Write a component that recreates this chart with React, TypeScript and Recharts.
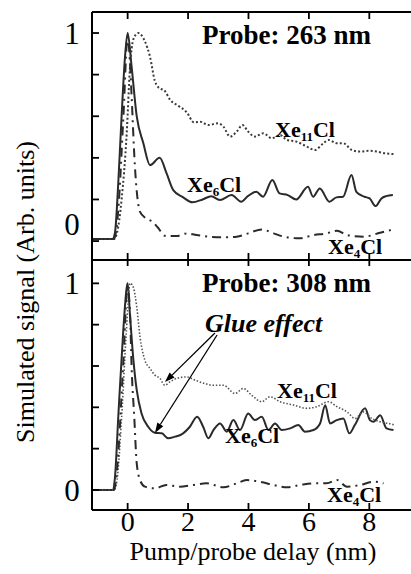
import React from "react";
import { LineChart, Line, XAxis, YAxis, ReferenceLine } from "recharts";

// delay (x) vs simulated signal (y)
const xe6Top: [number, number][] = [
  [-1.18, 0.01], [-0.5, 0.01], [-0.42, 0.04], [-0.31, 0.28], [-0.2, 0.6], [-0.09, 0.88], [0, 1.0],
  [0.13, 0.84], [0.3, 0.6], [0.52, 0.47], [0.74, 0.365], [1.06, 0.4], [1.29, 0.325], [1.51, 0.245],
  [1.84, 0.21], [2.14, 0.186], [2.48, 0.2], [2.77, 0.216], [3.05, 0.197], [3.44, 0.221], [3.76, 0.189],
  [3.98, 0.216], [4.26, 0.237], [4.48, 0.213], [4.79, 0.293], [5.03, 0.229], [5.3, 0.221], [5.58, 0.2],
  [5.97, 0.261], [6.14, 0.213], [6.36, 0.253], [6.68, 0.189], [6.91, 0.21], [7.13, 0.213], [7.41, 0.317],
  [7.57, 0.237], [7.84, 0.213], [8.01, 0.205], [8.21, 0.168], [8.4, 0.205], [8.56, 0.216], [8.78, 0.221],
];
const xe11Top: [number, number][] = [
  [-1.18, 0.01], [-0.45, 0.01], [-0.35, 0.04], [-0.2, 0.2], [-0.03, 0.52], [0.08, 0.84], [0.19, 0.97],
  [0.35, 1.0], [0.57, 0.96], [0.74, 0.886], [0.9, 0.77], [1.01, 0.74], [1.24, 0.72], [1.4, 0.68],
  [1.68, 0.65], [1.95, 0.62], [2.2, 0.57], [2.4, 0.574], [2.67, 0.558], [3.0, 0.566], [3.17, 0.55],
  [3.39, 0.502], [3.61, 0.526], [3.8, 0.558], [3.99, 0.526], [4.21, 0.502], [4.49, 0.518], [4.77, 0.494],
  [5.05, 0.51], [5.27, 0.486], [5.59, 0.478], [5.93, 0.454], [6.2, 0.438], [6.48, 0.47], [6.65, 0.486],
  [6.93, 0.47], [7.14, 0.47], [7.42, 0.438], [7.69, 0.43], [7.97, 0.434], [8.25, 0.43], [8.52, 0.422],
  [8.8, 0.418],
];
const xe4Top: [number, number][] = [
  [-1.18, 0.01], [-0.45, 0.01], [-0.31, 0.15], [-0.14, 0.6], [0, 0.98], [0.08, 0.85], [0.13, 0.7],
  [0.24, 0.36], [0.41, 0.14], [0.6, 0.11], [0.8, 0.095], [1.0, 0.065], [1.24, 0.025], [1.62, 0.024],
  [1.96, 0.037], [2.28, 0.029], [2.72, 0.021], [3.17, 0.018], [3.61, 0.021], [3.99, 0.037], [4.44, 0.056],
  [4.83, 0.037], [5.27, 0.018], [5.7, 0.013], [6.15, 0.029], [6.59, 0.037], [6.93, 0.05], [7.26, 0.029],
  [7.82, 0.021], [8.36, 0.04], [8.8, 0.056],
];

const xe6Bot: [number, number][] = [
  [-1.18, 0], [-0.5, 0], [-0.42, 0.06], [-0.31, 0.354], [-0.15, 0.76], [-0.03, 0.98], [0, 1.0],
  [0.08, 0.84], [0.19, 0.63], [0.3, 0.484], [0.46, 0.37], [0.68, 0.306], [0.9, 0.277], [1.13, 0.274],
  [1.34, 0.25], [1.57, 0.258], [1.8, 0.27], [2.06, 0.306], [2.3, 0.354], [2.5, 0.306], [2.67, 0.25],
  [2.84, 0.29], [3.06, 0.322], [3.28, 0.282], [3.5, 0.338], [3.72, 0.29], [3.99, 0.37], [4.21, 0.338],
  [4.44, 0.354], [4.66, 0.29], [4.88, 0.322], [5.1, 0.29], [5.38, 0.298], [5.65, 0.314], [5.87, 0.282],
  [6.15, 0.29], [6.37, 0.322], [6.54, 0.41], [6.7, 0.322], [6.92, 0.338], [7.14, 0.346], [7.34, 0.274],
  [7.52, 0.314], [7.86, 0.395], [8.02, 0.338], [8.14, 0.33], [8.36, 0.362], [8.57, 0.298], [8.8, 0.29],
];
const xe11Bot: [number, number][] = [
  [-1.18, 0], [-0.45, 0], [-0.35, 0.05], [-0.2, 0.35], [-0.05, 0.75], [0.08, 1.0], [0.19, 0.98],
  [0.3, 0.887], [0.41, 0.74], [0.57, 0.628], [0.74, 0.588], [0.9, 0.556], [1.07, 0.54], [1.23, 0.507],
  [1.4, 0.523], [1.62, 0.54], [1.95, 0.547], [2.25, 0.53], [2.56, 0.515], [2.84, 0.507], [3.17, 0.507],
  [3.55, 0.467], [3.83, 0.491], [4.1, 0.459], [4.44, 0.427], [4.71, 0.451], [5.05, 0.427], [5.49, 0.411],
  [5.93, 0.395], [6.26, 0.403], [6.65, 0.427], [6.93, 0.403], [7.26, 0.378], [7.53, 0.346], [7.81, 0.378],
  [8.08, 0.346], [8.36, 0.33], [8.63, 0.322], [8.85, 0.314],
];
const xe4Bot: [number, number][] = [
  [-1.18, 0], [-0.45, 0], [-0.35, 0.1], [-0.15, 0.6], [0, 0.98], [0.08, 0.85], [0.13, 0.6], [0.22, 0.35],
  [0.3, 0.13], [0.41, 0.048], [0.57, 0.016], [0.9, 0.008], [1.28, 0.024], [1.72, 0.016], [2.17, 0.024],
  [2.61, 0.032], [3.17, 0.013], [3.61, 0.032], [3.94, 0.048], [4.38, 0.04], [4.83, 0.024], [5.27, 0.013],
  [5.7, 0.024], [6.15, 0.032], [6.59, 0.032], [6.93, 0.048], [7.26, 0.016], [7.7, 0.024], [8.14, 0.04],
  [8.47, 0.032],
];

// "Glue effect" arrows: [from, to] in data units of the lower panel
const glueArrows: [number, number, number, number][] = [
  [2.89, 0.76, 1.235, 0.522],
  [2.96, 0.75, 0.904, 0.276],
];

const xTicks = [0, 2, 4, 6, 8];
const yTicks = [0, 0.2, 0.4, 0.6, 0.8, 1];
const xDomain = [-1.18, 9.38];

const FONT = "'Liberation Serif', 'DejaVu Serif', serif";
const INK = "#000";

const toPts = (arr: [number, number][]) => arr.map(([x, y]) => ({ x, y }));

const TopTick = (p: any) => (
  <line x1={p.x} x2={p.x} y1={p.y} y2={p.y + 7} stroke={INK} strokeWidth={1.8} />
);
const MidTick = (p: any) => (
  <line x1={p.x} x2={p.x} y1={p.y - 7} y2={p.y + 6} stroke={INK} strokeWidth={1.8} />
);
const BottomTick = (p: any) => (
  <g>
    <line x1={p.x} x2={p.x} y1={p.y - 7} y2={p.y} stroke={INK} strokeWidth={1.8} />
    <text x={p.x} y={p.y + 21} textAnchor="middle" fontSize={28} fontFamily={FONT} fill={INK}>
      {p.payload.value}
    </text>
  </g>
);
const makeYTick = (zeroShift: number) => (p: any) => {
  const v = p.payload.value;
  const label = v === 0 ? "0" : v === 1 ? "1" : null;
  return (
    <g>
      <line x1={p.x} x2={p.x + 7} y1={p.y} y2={p.y} stroke={INK} strokeWidth={1.8} />
      {label && (
        <text
          x={p.x - 20}
          y={p.y + 11 + (v === 0 ? zeroShift : 0)}
          textAnchor="middle"
          fontSize={31}
          fontFamily={FONT}
          fill={INK}
        >
          {label}
        </text>
      )}
    </g>
  );
};

const Arrow = (p: any) => {
  const { x1, y1, x2, y2 } = p;
  const a = Math.atan2(y2 - y1, x2 - x1);
  const L = 10, W = 3.5;
  const bx = x2 - L * Math.cos(a), by = y2 - L * Math.sin(a);
  const nx = -Math.sin(a) * W, ny = Math.cos(a) * W;
  return (
    <g>
      <line x1={x1} y1={y1} x2={bx} y2={by} stroke={INK} strokeWidth={1.3} />
      <polygon points={`${x2},${y2} ${bx + nx},${by + ny} ${bx - nx},${by - ny}`} fill={INK} />
    </g>
  );
};

const Species = ({ x, y, n }: { x: number; y: number; n: string }) => (
  <text x={x} y={y} fontSize={22} fontWeight="bold" fontFamily={FONT} fill={INK}>
    Xe
    <tspan fontSize={13} dy={4}>{n}</tspan>
    <tspan fontSize={22} dy={-4}>Cl</tspan>
  </text>
);

function series(top: boolean) {
  const s6 = top ? xe6Top : xe6Bot;
  const s11 = top ? xe11Top : xe11Bot;
  const s4 = top ? xe4Top : xe4Bot;
  const xid = top ? "bot" : 0;
  return [
    <Line key="6" xAxisId={xid} data={toPts(s6)} dataKey="y" type="monotone" stroke="#2a2a2a"
      strokeWidth={2} dot={false} isAnimationActive={false} />,
    <Line key="11" xAxisId={xid} data={toPts(s11)} dataKey="y" type="monotone" stroke={top ? "#3a3a3a" : "#555"}
      strokeWidth={top ? 2 : 1.6} strokeDasharray={top ? "2 2.2" : "1.5 1.8"} dot={false} isAnimationActive={false} />,
    <Line key="4" xAxisId={xid} data={toPts(s4)} dataKey="y" type="monotone" stroke="#2a2a2a"
      strokeWidth={2} strokeDasharray="9 5 2 5" dot={false} isAnimationActive={false} />,
  ];
}

export default function App() {
  return (
    <div style={{ position: "absolute", left: 0, top: 0, width: 411, height: 574, background: "#fff" }}>
      <div style={{ position: "absolute", left: 0, top: 0 }}>
        <LineChart width={411} height={268} margin={{ top: 11, right: 0, bottom: 7, left: 0 }}>
          <XAxis xAxisId="top" orientation="top" dataKey="x" type="number" domain={xDomain} ticks={xTicks}
            allowDataOverflow height={1} tickSize={0} tickMargin={0} interval={0} tick={TopTick}
            axisLine={{ stroke: INK, strokeWidth: 2 }} />
          <XAxis xAxisId="bot" orientation="bottom" dataKey="x" type="number" domain={xDomain} ticks={xTicks}
            allowDataOverflow height={1} tickSize={0} tickMargin={0} interval={0} tick={MidTick}
            axisLine={{ stroke: INK, strokeWidth: 2 }} />
          <YAxis width={92} type="number" domain={[-0.091, 1.101]} ticks={yTicks} allowDataOverflow
            tickSize={0} tickMargin={0} interval={0} tick={makeYTick(-17)}
            axisLine={{ stroke: INK, strokeWidth: 2 }} />
          {series(true)}
        </LineChart>
      </div>
      <div style={{ position: "absolute", left: 0, top: 260 }}>
        <LineChart width={411} height={314} margin={{ top: 0, right: 0, bottom: 63, left: 0 }}>
          <XAxis dataKey="x" type="number" domain={xDomain} ticks={xTicks} allowDataOverflow height={1}
            tickSize={0} tickMargin={0} interval={0} tick={BottomTick}
            axisLine={{ stroke: INK, strokeWidth: 2 }} />
          <YAxis width={92} type="number" domain={[-0.097, 1.113]} ticks={yTicks} allowDataOverflow
            tickSize={0} tickMargin={0} interval={0} tick={makeYTick(0)}
            axisLine={{ stroke: INK, strokeWidth: 2 }} />
          {series(false)}
          {glueArrows.map(([xa, ya, xb, yb], i) => (
            <ReferenceLine key={i} segment={[{ x: xa, y: ya }, { x: xb, y: yb }]} shape={Arrow} ifOverflow="visible" />
          ))}
        </LineChart>
      </div>
      <svg width={411} height={574} style={{ position: "absolute", left: 0, top: 0, pointerEvents: "none" }}>
        <g fontFamily={FONT} fill={INK}>
          <text x={202} y={44} fontSize={27} fontWeight="bold">Probe: 263 nm</text>
          <text x={202} y={292} fontSize={27} fontWeight="bold">Probe: 308 nm</text>
          <text x={205} y={332} fontSize={26} fontWeight="bold" fontStyle="italic">Glue effect</text>
          <text x={253} y={560} fontSize={26} textAnchor="middle">Pump/probe delay (nm)</text>
          <text x={34} y={292} fontSize={26} textAnchor="middle" transform="rotate(-90 34 292)">
            Simulated signal (Arb. units)
          </text>
        </g>
        <Species x={275} y={137} n="11" />
        <Species x={187} y={192} n="6" />
        <Species x={328} y={254} n="4" />
        <Species x={277} y={398} n="11" />
        <Species x={225} y={443} n="6" />
        <Species x={327} y={502} n="4" />
      </svg>
    </div>
  );
}
